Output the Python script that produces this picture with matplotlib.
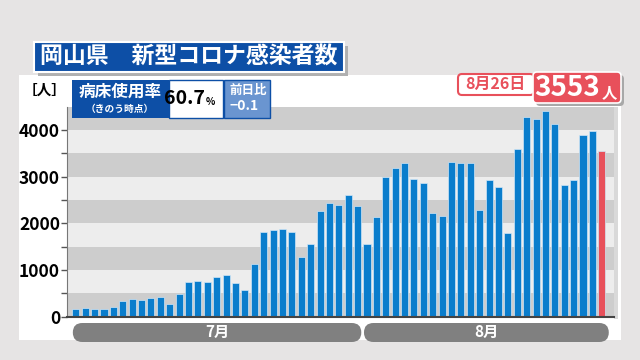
import numpy as np
import matplotlib.pyplot as plt
from matplotlib.patches import FancyBboxPatch, Rectangle

plt.rcParams['font.family'] = ['Noto Sans CJK JP', 'DejaVu Sans']

# 岡山県 新型コロナ感染者数 (7/1 - 8/26)
july = [171, 193, 164, 157, 214, 329, 371, 364, 407, 414, 279, 479, 736, 764, 736,
        857, 900, 714, 564, 1121, 1807, 1857, 1886, 1814, 1271, 1550, 2264, 2436,
        2400, 2614, 2379]
august = [1550, 2136, 2993, 3179, 3293, 2950, 2864, 2221, 2164, 3314, 3286, 3293,
          2279, 2929, 2786, 1793, 3600, 4286, 4229, 4400, 4129, 2829, 2921, 3886,
          3986, 3553]
counts = july + august
months = ['7月', '8月']
yticks = [0, 1000, 2000, 3000, 4000]
latest_date = '8月26日'
bed_rate = '60.7'
bed_diff = '−0.1'

BG = '#e6e4e4'
BLUE = '#0a7dcc'
RED = '#e8505b'
NAVY = '#0d4fa6'

fig = plt.figure(figsize=(6.4, 3.6), dpi=100)
fig.patch.set_facecolor(BG)

def overlay(z):
    o = fig.add_axes([0, 0, 1, 1], zorder=z)
    o.set_xlim(0, 640)
    o.set_ylim(360, 0)
    o.axis('off')
    o.patch.set_alpha(0)
    return o

back = overlay(0)
back.add_patch(Rectangle((19, 75), 602, 265, facecolor='white', edgecolor='none'))
back.add_patch(Rectangle((614, 107), 4, 212, facecolor='#d9d9d9', edgecolor='none'))

ax = fig.add_axes([67 / 640, 1 - 316.7 / 360, (614 - 67) / 640, 210 / 360], zorder=1)
ax.set_facecolor('#ededed')
x = np.arange(len(counts))
ax.set_xlim(-0.94, len(counts) + 0.3)
ax.set_ylim(0, 4500)
for lo in range(0, 4500, 1000):
    ax.axhspan(lo, lo + 500, color='#cdcdcd', lw=0, zorder=0)

colors = [BLUE] * (len(counts) - 1) + [RED]
ax.bar(x, counts, width=0.75, color=colors, edgecolor='#cfe6f6', linewidth=0.5, zorder=2)

ax.set_yticks(yticks)
ax.set_yticklabels([str(v) for v in yticks], fontsize=12.5, fontweight='bold')
ax.set_yticks(np.arange(500, 4500, 1000), minor=True)
ax.tick_params(axis='y', which='both', length=4, width=1, color='#555555', pad=1)
ax.set_xticks([])
for s in ['top', 'right']:
    ax.spines[s].set_visible(False)
ax.spines['left'].set_color('#777777')
ax.spines['bottom'].set_color('#444444')
ax.spines['bottom'].set_linewidth(1.5)

ov = overlay(2)

# month pills, placed from bar positions
fig.canvas.draw()
def px(i):
    return ax.transData.transform((i, 0))[0]
spans = [(0, len(july) - 1), (len(july), len(counts) - 1)]
for name, (a, b) in zip(months, spans):
    x0 = px(a) - 3
    x1 = px(b) + 7 if b == len(counts) - 1 else px(b + 0.5) - 1
    ov.add_patch(FancyBboxPatch((x0, 323), x1 - x0, 19,
                                boxstyle='round,pad=0,rounding_size=9.5',
                                facecolor='#808080', edgecolor='none', zorder=3))
    ov.text((x0 + x1) / 2, 332, name, color='white', fontsize=11,
            fontweight='bold', ha='center', va='center', zorder=4)

# title
ov.add_patch(Rectangle((38, 46), 310, 30, facecolor='#b0b0b0', edgecolor='none', zorder=2))
ov.add_patch(Rectangle((34, 42), 310, 30, facecolor=NAVY, edgecolor='white', lw=1.5, zorder=3))
ov.text(189, 57, '岡山県　新型コロナ感染者数', color='white', fontsize=16.5,
        fontweight='bold', ha='center', va='center', zorder=4)

ov.text(45, 90, '［人］', fontsize=10.5, fontweight='bold', ha='center', va='center')

# bed usage boxes
ov.add_patch(Rectangle((72, 80), 97, 38, facecolor=NAVY, edgecolor='none', zorder=3))
ov.text(120, 92, '病床使用率', color='white', fontsize=12, fontweight='bold',
        ha='center', va='center', zorder=4)
ov.text(120, 109, '（きのう時点）', color='white', fontsize=7, fontweight='bold',
        ha='center', va='center', zorder=4)
ov.add_patch(Rectangle((169, 80), 54, 38, facecolor='white', edgecolor=NAVY, lw=1, zorder=3))
ov.text(205, 99, bed_rate, fontsize=14, fontweight='bold', ha='right', va='center', zorder=4)
ov.text(206, 102, '%', fontsize=7, fontweight='bold', ha='left', va='center', zorder=4)
ov.add_patch(Rectangle((224, 80), 46, 38, facecolor='#6a95d0', edgecolor=NAVY, lw=1, zorder=3))
ov.text(229, 90, '前日比', color='white', fontsize=9, fontweight='bold',
        ha='left', va='center', zorder=4)
ov.text(229, 106, bed_diff, color='white', fontsize=10, fontweight='bold',
        ha='left', va='center', zorder=4)

# latest label
ov.add_patch(FancyBboxPatch((458, 74), 76, 21, boxstyle='round,pad=0,rounding_size=4',
                            facecolor='white', edgecolor=RED, lw=1.5, zorder=3))
ov.text(495, 84, latest_date, color=RED, fontsize=11.5, fontweight='bold',
        ha='center', va='center', zorder=4)
ov.add_patch(FancyBboxPatch((536, 75), 88, 31, boxstyle='round,pad=0,rounding_size=4',
                            facecolor='#a8a8a8', edgecolor='none', zorder=2))
ov.add_patch(FancyBboxPatch((533, 72), 88, 31, boxstyle='round,pad=0,rounding_size=4',
                            facecolor=RED, edgecolor='white', lw=1.2, zorder=3))
ov.text(600, 88, str(counts[-1]), color='white', fontsize=20, fontweight='bold',
        ha='right', va='center', zorder=4)
ov.text(602, 92, '人', color='white', fontsize=11, fontweight='bold',
        ha='left', va='center', zorder=4)

fig.savefig('out.png', dpi=100, facecolor=fig.get_facecolor())
